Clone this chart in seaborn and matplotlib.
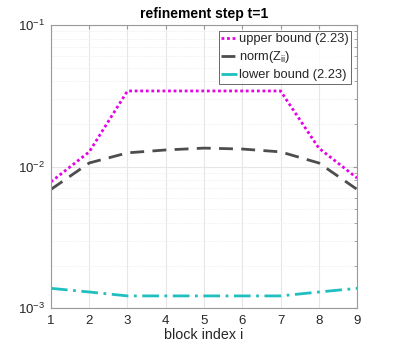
import numpy as np
import pandas as pd
import seaborn as sns
import matplotlib
matplotlib.use("Agg")
import matplotlib.pyplot as plt
from matplotlib.ticker import LogLocator, NullFormatter

sns.set_style("white")
plt.rcParams['font.family'] = ['Liberation Sans', 'DejaVu Sans']
plt.rcParams['mathtext.fontset'] = 'custom'
plt.rcParams['mathtext.rm'] = 'Liberation Sans'
plt.rcParams['mathtext.it'] = 'Liberation Sans'

block_index = [1, 2, 3, 4, 5, 6, 7, 8, 9]
upper_bound = [0.0078, 0.0127, 0.0342, 0.0342, 0.0342, 0.0342, 0.0342, 0.0135, 0.0083]
norm_Zii = [0.0069, 0.0106, 0.0125, 0.0131, 0.0135, 0.0133, 0.0127, 0.0106, 0.0069]
lower_bound = [0.00138, 0.0013, 0.00122, 0.00122, 0.00122, 0.00122, 0.00122, 0.0013, 0.00138]

labels = ['upper bound (2.23)', 'norm(Z$_{\\mathrm{ii}}$)', 'lower bound (2.23)']
df = pd.DataFrame({
    'i': block_index * 3,
    'value': upper_bound + norm_Zii + lower_bound,
    'series': [labels[0]] * 9 + [labels[1]] * 9 + [labels[2]] * 9,
})

fig = plt.figure(figsize=(3.95, 3.47), dpi=100)
ax = fig.add_axes([0.129, 0.112, 0.775, 0.816])

palette = {labels[0]: '#E600E6', labels[1]: '#4D4D4D', labels[2]: '#1FBFBF'}
styles = {labels[0]: (0, (1, 1)), labels[1]: (0, (5, 3)), labels[2]: (0, (6, 2, 1, 2))}

for lab in labels:
    sub = df[df['series'] == lab]
    sns.lineplot(data=sub, x='i', y='value', ax=ax, color=palette[lab],
                 linestyle=styles[lab], linewidth=2, label=lab)

ax.set_yscale('log')
ax.set_ylim(1e-3, 1e-1)
ax.set_xlim(1, 9)
ax.set_xticks(block_index)
ax.yaxis.set_major_locator(LogLocator(base=10, numticks=10))
ax.yaxis.set_minor_locator(LogLocator(base=10, subs=np.arange(2, 10), numticks=20))
ax.yaxis.set_minor_formatter(NullFormatter())

ax.grid(True, which='major', color='#E6E6E6', linewidth=0.8)
ax.grid(True, which='minor', axis='y', color='#E6E6E6', linewidth=0.6, linestyle=':')
for s in ax.spines.values():
    s.set_color('#999999')
    s.set_linewidth(0.8)
ax.tick_params(axis='both', which='both', direction='in', color='#999999', labelsize=9.5, labelcolor='#262626', top=True, right=True, length=3)
ax.tick_params(axis='y', which='minor', length=2)
ax.tick_params(axis='x', pad=5)
ax.tick_params(axis='y', pad=4)

ax.set_xlabel('block index i', fontsize=10.3, color='#262626', labelpad=1)
ax.set_ylabel('')
ax.set_title('refinement step t=1', fontsize=10, fontweight='bold', color='#000000', pad=5)

leg = ax.legend(loc='upper right', fontsize=9.3, frameon=True, fancybox=False,
                handlelength=1.2, handletextpad=0.15, borderaxespad=0.45,
                borderpad=0.2, labelspacing=0.3)
leg.get_frame().set_edgecolor('#262626')
leg.get_frame().set_linewidth(0.6)

fig.savefig('out.png', dpi=100)
